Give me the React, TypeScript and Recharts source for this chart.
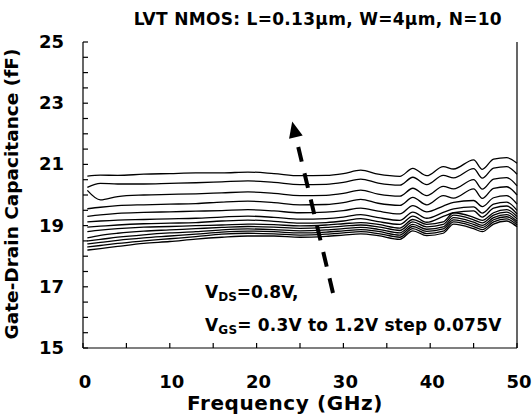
import { Line, LineChart, ReferenceLine, XAxis, YAxis } from "recharts"

// frequency points (GHz)
const freq = [0.5, 2, 4, 7, 10, 13, 16, 19, 22, 25, 28, 30, 32, 34, 36.5, 38, 39.6, 41.5, 42.7, 45, 46, 47.3, 48.8, 50]

// Cgd (fF) for each VGS, lowest VGS first
const vgs0300 = [18.2, 18.25, 18.32, 18.42, 18.48, 18.56, 18.62, 18.66, 18.66, 18.62, 18.65, 18.69, 18.73, 18.67, 18.55, 18.83, 18.67, 18.75, 19.05, 18.9, 18.8, 19.05, 19.15, 18.96]
const vgs0375 = [18.3, 18.35, 18.42, 18.5, 18.57, 18.64, 18.72, 18.75, 18.73, 18.69, 18.72, 18.76, 18.8, 18.74, 18.62, 18.9, 18.74, 18.82, 19.12, 18.97, 18.87, 19.12, 19.22, 19.02]
const vgs0450 = [18.4, 18.45, 18.52, 18.6, 18.66, 18.72, 18.79, 18.82, 18.8, 18.76, 18.79, 18.83, 18.87, 18.81, 18.69, 18.97, 18.81, 18.89, 19.19, 19.04, 18.94, 19.19, 19.29, 19.08]
const vgs0525 = [18.5, 18.55, 18.62, 18.7, 18.76, 18.8, 18.86, 18.89, 18.87, 18.83, 18.86, 18.9, 18.94, 18.88, 18.76, 19.04, 18.88, 18.96, 19.26, 19.11, 19.01, 19.26, 19.36, 19.14]
const vgs0600 = [18.6, 18.68, 18.75, 18.82, 18.86, 18.9, 18.94, 18.97, 18.95, 18.91, 18.94, 18.98, 19.02, 18.96, 18.84, 19.12, 18.96, 19.04, 19.34, 19.19, 19.09, 19.34, 19.44, 19.22]
const vgs0675 = [18.8, 18.85, 18.9, 18.95, 18.97, 19.0, 19.02, 19.05, 19.03, 18.99, 19.02, 19.06, 19.1, 19.04, 18.92, 19.2, 19.04, 19.12, 19.42, 19.27, 19.17, 19.42, 19.52, 19.3]
const vgs0750 = [18.95, 18.98, 19.02, 19.06, 19.08, 19.1, 19.15, 19.18, 19.14, 19.08, 19.1, 19.15, 19.23, 19.13, 19.04, 19.31, 19.11, 19.3, 19.42, 19.48, 19.28, 19.57, 19.64, 19.38]
const vgs0825 = [19.12, 19.15, 19.18, 19.2, 19.22, 19.24, 19.28, 19.31, 19.27, 19.21, 19.23, 19.28, 19.36, 19.26, 19.17, 19.44, 19.24, 19.43, 19.55, 19.61, 19.41, 19.7, 19.77, 19.5]
const vgs0900 = [19.3, 19.35, 19.4, 19.43, 19.45, 19.47, 19.49, 19.52, 19.48, 19.42, 19.44, 19.49, 19.57, 19.47, 19.38, 19.65, 19.45, 19.64, 19.76, 19.82, 19.62, 19.91, 19.98, 19.7]
const vgs0975 = [19.55, 19.6, 19.65, 19.68, 19.7, 19.72, 19.77, 19.8, 19.75, 19.68, 19.69, 19.75, 19.86, 19.73, 19.66, 19.92, 19.68, 19.98, 19.9, 20.2, 19.89, 20.22, 20.27, 20.0]
const vgs1050 = [20.15, 19.84, 19.95, 20.0, 20.02, 20.04, 20.07, 20.1, 20.05, 19.98, 19.99, 20.05, 20.16, 20.03, 19.96, 20.22, 19.98, 20.28, 20.2, 20.5, 20.19, 20.52, 20.57, 20.3]
const vgs1125 = [20.25, 20.38, 20.36, 20.36, 20.38, 20.4, 20.43, 20.46, 20.41, 20.34, 20.35, 20.41, 20.52, 20.39, 20.32, 20.58, 20.34, 20.64, 20.56, 20.86, 20.55, 20.88, 20.93, 20.68]
const vgs1200 = [20.62, 20.65, 20.64, 20.68, 20.7, 20.72, 20.72, 20.75, 20.7, 20.63, 20.64, 20.7, 20.81, 20.68, 20.61, 20.87, 20.63, 20.93, 20.85, 21.15, 20.84, 21.17, 21.22, 21.04]

const seriesList = [vgs0300, vgs0375, vgs0450, vgs0525, vgs0600, vgs0675, vgs0750, vgs0825, vgs0900, vgs0975, vgs1050, vgs1125, vgs1200]

const xTicks = [0, 5, 10, 15, 20, 25, 30, 35, 40, 45, 50]
const yTicks = [15, 15.5, 16, 16.5, 17, 17.5, 18, 18.5, 19, 19.5, 20, 20.5, 21, 21.5, 22, 22.5, 23, 23.5, 24, 24.5, 25]
const yLabels = [15, 17, 19, 21, 23, 25]

// dashed arrow showing increasing VGS
const arrowFrom = { x: 28.8, y: 16.8 }
const arrowTo = { x: 24.1, y: 22.4 }

const data = freq.map((f, i) => {
  const row: Record<string, number> = { f }
  seriesList.forEach((s, k) => {
    row[`s${k}`] = s[i]
  })
  return row
})

const FONT = "'DejaVu Sans', Verdana, sans-serif"

const XTick = ({ x, y, payload }: any) => (
  <g>
    <line x1={x} x2={x} y1={y} y2={y - 5} stroke="#000" strokeWidth={1.2} />
    {payload.value % 10 === 0 && (
      <text x={x + 2} y={y + 40} textAnchor="middle" fontSize={18} fontWeight="bold" fontFamily={FONT} fill="#000">
        {payload.value}
      </text>
    )}
  </g>
)

const YTickLeft = ({ x, y, payload }: any) => (
  <g>
    <line x1={x} x2={x + 5} y1={y} y2={y} stroke="#000" strokeWidth={1.2} />
    {yLabels.includes(payload.value) && (
      <text x={x - 19} y={y + 6} textAnchor="end" fontSize={18} fontWeight="bold" fontFamily={FONT} fill="#000">
        {payload.value}
      </text>
    )}
  </g>
)

const YTickRight = ({ x, y }: any) => (
  <line x1={x} x2={x - 5} y1={y} y2={y} stroke="#000" strokeWidth={1.2} />
)

const ArrowShape = ({ x1, y1, x2, y2 }: any) => {
  const dx = x2 - x1
  const dy = y2 - y1
  const len = Math.sqrt(dx * dx + dy * dy)
  const ux = dx / len
  const uy = dy / len
  const head = 16
  const half = 7
  const bx = x2 - ux * head
  const by = y2 - uy * head
  return (
    <g>
      <line x1={x1} y1={y1} x2={bx} y2={by} stroke="#000" strokeWidth={4} strokeDasharray="15 12" />
      <polygon
        points={`${x2},${y2} ${bx - uy * half},${by + ux * half} ${bx + uy * half},${by - ux * half}`}
        fill="#000"
      />
    </g>
  )
}

export default function App() {
  return (
    <div style={{ position: "absolute", left: 0, top: 0, width: 532, height: 415, background: "#fff" }}>
      <LineChart width={532} height={415} data={data} margin={{ top: 42, right: 0, bottom: 27, left: 0 }}>
        <XAxis
          dataKey="f"
          type="number"
          domain={[0, 50]}
          ticks={xTicks}
          height={40}
          tickSize={0}
          tickMargin={0}
          tick={<XTick />}
          axisLine={{ stroke: "#000", strokeWidth: 1.2 }}
          interval={0}
        />
        <XAxis
          xAxisId="top"
          orientation="top"
          type="number"
          domain={[0, 50]}
          height={0}
          tick={false}
          tickLine={false}
          axisLine={{ stroke: "#000", strokeWidth: 1.2 }}
        />
        <YAxis
          type="number"
          domain={[15, 25]}
          ticks={yTicks}
          width={83}
          tickSize={0}
          tickMargin={0}
          tick={<YTickLeft />}
          axisLine={{ stroke: "#000", strokeWidth: 1.2 }}
          interval={0}
        />
        <YAxis
          yAxisId="right"
          orientation="right"
          type="number"
          domain={[15, 25]}
          ticks={yTicks}
          width={15}
          tickSize={0}
          tickMargin={0}
          tick={<YTickRight />}
          axisLine={{ stroke: "#000", strokeWidth: 1.2 }}
          interval={0}
        />
        {seriesList.map((_, k) => (
          <Line
            key={k}
            dataKey={`s${k}`}
            type="monotone"
            stroke="#000"
            strokeWidth={1.3}
            dot={false}
            isAnimationActive={false}
          />
        ))}
        <ReferenceLine segment={[arrowFrom, arrowTo]} shape={<ArrowShape />} />
      </LineChart>
      <svg width={532} height={415} style={{ position: "absolute", left: 0, top: 0, pointerEvents: "none" }}>
        <g fontFamily={FONT} fontWeight="bold" fill="#000">
          <text x={502} y={25} textAnchor="end" fontSize={17} letterSpacing={0.3}>
            LVT NMOS: L=0.13µm, W=4µm, N=10
          </text>
          <text x={285} y={410} textAnchor="middle" fontSize={20} letterSpacing={0.6}>
            Frequency (GHz)
          </text>
          <text transform="translate(18,194) rotate(-90)" textAnchor="middle" fontSize={18.5}>
            Gate-Drain Capacitance (fF)
          </text>
          <text x={205} y={298} fontSize={17}>
            V<tspan fontSize={12} dy={3}>DS</tspan>
            <tspan dy={-3}>=0.8V,</tspan>
          </text>
          <text x={205} y={331} fontSize={17} letterSpacing={0.2}>
            V<tspan fontSize={12} dy={3}>GS</tspan>
            <tspan dy={-3}>= 0.3V to 1.2V step 0.075V</tspan>
          </text>
        </g>
      </svg>
    </div>
  )
}
